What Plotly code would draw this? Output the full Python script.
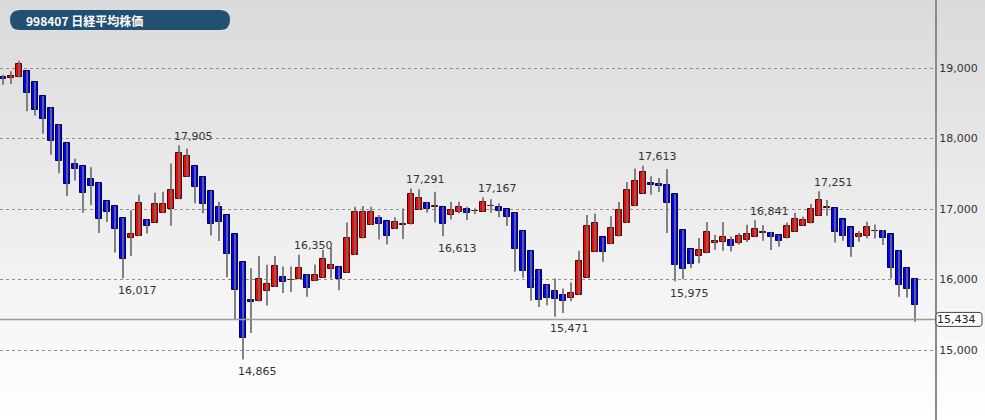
import plotly.graph_objects as go

title_text = "998407 日経平均株価"

opens = [18868, 18858, 18868, 18962, 18807, 18604, 18439, 18198, 17939, 17642,
         17608, 17425, 17373, 17118, 17038, 16873, 16594, 16618, 16849, 16807,
         16939, 17000, 17137, 17458, 17608, 17458, 17259, 17024, 16915, 16642,
         16245, 15712, 15689, 15844, 15892, 16042, 15995, 16005, 16071, 15976,
         16024, 16156, 16180, 16095, 16346, 16583, 16773, 16867, 16829, 16716,
         16782, 16782, 16986, 17081, 17033, 17033, 16915, 16953, 16995, 16972,
         16962, 17043, 17033, 17000, 16948, 16687, 16408, 16142, 15929, 15834,
         15777, 15739, 15777, 16024, 16393, 16597, 16502, 16611, 16801, 17038,
         17218, 17370, 17355, 17336, 17213, 16706, 16431, 16327, 16374, 16517,
         16531, 16564, 16517, 16564, 16600, 16668, 16654, 16630, 16583, 16678,
         16763, 16796, 16905, 17019, 17019, 16853, 16739, 16597, 16621, 16687,
         16687, 16640, 16408, 16166, 16014]
highs = [18906, 18953, 19104, 18962, 18807, 18604, 18439, 18198, 17939, 17712,
         17608, 17594, 17373, 17118, 17038, 16873, 16981, 17203, 16849, 17231,
         17245, 17646, 17905, 17858, 17608, 17458, 17259, 17104, 16915, 16642,
         16245, 16160, 16335, 16208, 16335, 16184, 16184, 16350, 16071, 16213,
         16417, 16450, 16180, 16810, 17033, 17043, 17033, 16915, 16829, 16882,
         17009, 17291, 17280, 17104, 17246, 17033, 17104, 17104, 17033, 17009,
         17167, 17137, 17081, 17000, 16948, 16687, 16408, 16142, 15929, 16014,
         15872, 15957, 16408, 16915, 16938, 16597, 16896, 17100, 17384, 17573,
         17613, 17464, 17441, 17569, 17213, 16706, 16431, 16588, 16815, 16635,
         16815, 16611, 16659, 16777, 16841, 16773, 16678, 16630, 16810, 16948,
         16891, 17071, 17251, 17128, 17019, 16853, 16739, 16687, 16820, 16782,
         16701, 16640, 16408, 16166, 16014]
lows = [18764, 18774, 18868, 18387, 18325, 18066, 17769, 17509, 17184, 17406,
        16948, 17052, 16660, 16816, 16382, 16017, 16335, 16618, 16651, 16807,
        16939, 16764, 17137, 17458, 17080, 16939, 16623, 16547, 16033, 15429,
        14865, 15241, 15689, 15632, 15892, 15807, 15821, 16005, 15754, 15976,
        16024, 16014, 15848, 16095, 16346, 16583, 16773, 16569, 16498, 16716,
        16573, 16782, 16986, 16948, 16810, 16613, 16853, 16938, 16844, 16929,
        16962, 16948, 16882, 16758, 16109, 16024, 15697, 15611, 15635, 15471,
        15526, 15692, 15777, 16024, 16393, 16251, 16502, 16611, 16801, 17038,
        17218, 17204, 17242, 16659, 15975, 16005, 16161, 16232, 16374, 16422,
        16408, 16398, 16493, 16531, 16600, 16550, 16417, 16464, 16583, 16678,
        16763, 16796, 16905, 16905, 16526, 16550, 16322, 16536, 16583, 16583,
        16488, 16014, 15754, 15744, 15400]
closes = [18849, 18892, 19057, 18642, 18406, 18278, 17958, 17684, 17349, 17571,
          17231, 17325, 16863, 16958, 16712, 16297, 16651, 17090, 16755, 17066,
          17071, 17269, 17788, 17755, 17316, 17066, 16783, 16821, 16363, 15854,
          15170, 15675, 16009, 15934, 16194, 15962, 15995, 16160, 15882, 16062,
          16284, 16204, 16014, 16583, 16953, 16962, 16962, 16787, 16616, 16810,
          16782, 17209, 17161, 17000, 17033, 16782, 16986, 17033, 16938, 16972,
          17095, 17043, 16976, 16882, 16427, 16118, 15882, 15716, 15744, 15720,
          15697, 15815, 16261, 16758, 16806, 16393, 16730, 16981, 17275, 17393,
          17521, 17341, 17332, 17085, 16209, 16147, 16223, 16422, 16668, 16540,
          16602, 16469, 16611, 16645, 16718, 16668, 16607, 16545, 16763, 16853,
          16844, 17000, 17128, 17019, 16678, 16621, 16464, 16640, 16739, 16687,
          16592, 16166, 15919, 15863, 15645]

days = list(range(len(opens)))

high_marks = [22, 37, 51, 60, 80, 94, 102]
low_marks = [15, 30, 55, 69, 84]

last_price = 15434
ytick_vals = [15000, 16000, 17000, 18000, 19000]
ytick_text = ["15,000", "16,000", "17,000", "18,000", "19,000"]

UP = "#ff0000"
DOWN = "#0000ff"
UP_EDGE = "#4a0000"
DOWN_EDGE = "#00004a"
WICK = "#6e6e6e"
FONT = "DejaVu Sans"

fig = go.Figure()

# wicks
wx, wy = [], []
for d, h, l in zip(days, highs, lows):
    wx += [d, d, None]
    wy += [l, h, None]
fig.add_trace(go.Scatter(x=wx, y=wy, mode="lines",
                         line=dict(color=WICK, width=1.7),
                         hoverinfo="skip", showlegend=False))

# bodies
bases, heights, fills, edges = [], [], [], []
for o, c in zip(opens, closes):
    lo, hi = min(o, c), max(o, c)
    if hi - lo < 8:
        mid = (hi + lo) / 2
        lo, hi = mid - 4, mid + 4
    bases.append(lo)
    heights.append(hi - lo)
    up = c >= o
    fills.append(UP if up else DOWN)
    edges.append(UP_EDGE if up else DOWN_EDGE)
fig.add_trace(go.Bar(x=days, y=heights, base=bases, width=0.86,
                     marker=dict(color=fills, line=dict(color=edges, width=1)),
                     hoverinfo="skip", showlegend=False))

# background gradient
shapes = []
n = 60
for k in range(n):
    t = k / (n - 1)
    g = int(round(218 + (255 - 218) * t))
    shapes.append(dict(type="rect", xref="paper", yref="paper",
                       x0=-0.01, x1=1.06, y0=1 - (k + 1) / n, y1=1 - k / n + 0.001,
                       fillcolor=f"rgb({g},{g},{g})", line=dict(width=0),
                       layer="below"))

# last price line
shapes.append(dict(type="line", xref="paper", yref="y", x0=0, x1=1,
                   y0=last_price, y1=last_price,
                   line=dict(color="#9a9a9a", width=1.5), layer="above"))
# last price box (rounded)
shapes.append(dict(type="path", xref="paper", yref="y",
                   xsizemode="pixel", ysizemode="pixel",
                   xanchor=1, yanchor=last_price,
                   path="M 4,7 L 44,7 Q 47,7 47,4 L 47,-4 Q 47,-7 44,-7 L 4,-7 Q 1,-7 1,-4 L 1,4 Q 1,7 4,7 Z",
                   fillcolor="white", line=dict(color="#444", width=1), layer="above"))
# title pill
shapes.append(dict(type="path", xref="paper", yref="paper",
                   xsizemode="pixel", ysizemode="pixel",
                   xanchor=0, yanchor=1,
                   path="M 20,-10 L 220,-10 Q 230,-10 230,-20 Q 230,-30 220,-30 L 20,-30 Q 10,-30 10,-20 Q 10,-10 20,-10 Z",
                   fillcolor="#215073", line=dict(width=0), layer="above"))

annotations = []
annotations.append(dict(xref="paper", yref="paper", x=0, y=1, xanchor="left",
                        yanchor="middle", xshift=24, yshift=-20, showarrow=False,
                        text=f"<b>{title_text}</b>",
                        font=dict(family="Noto Sans CJK JP", size=12, color="white")))
annotations.append(dict(xref="paper", yref="y", x=1, y=last_price, xanchor="left",
                        yanchor="middle", xshift=0, showarrow=False,
                        text=f"{last_price:,}",
                        font=dict(family=FONT, size=11, color="#222")))
for i in high_marks:
    annotations.append(dict(x=i, y=highs[i], xanchor="left", yanchor="middle",
                            xshift=-7, yshift=9, showarrow=False,
                            text=f"{highs[i]:,}",
                            font=dict(family=FONT, size=11, color="#333")))
for i in low_marks:
    annotations.append(dict(x=i, y=lows[i], xanchor="left", yanchor="middle",
                            xshift=-7, yshift=-12, showarrow=False,
                            text=f"{lows[i]:,}",
                            font=dict(family=FONT, size=11, color="#333")))

fig.update_layout(
    width=985, height=420,
    margin=dict(l=0, r=50, t=0, b=0),
    paper_bgcolor="white",
    plot_bgcolor="rgba(0,0,0,0)",
    shapes=shapes,
    annotations=annotations,
    bargap=0,
    xaxis=dict(range=[-0.375, 116.5], visible=False, fixedrange=True),
    yaxis=dict(range=[14007, 19965], side="right",
               tickvals=ytick_vals, ticktext=ytick_text,
               tickfont=dict(family=FONT, size=11, color="#333"),
               showgrid=True, gridcolor="#8f8f8f", griddash="dot", gridwidth=1,
               showline=True, linecolor="#8a8a8a", linewidth=2,
               ticks="", zeroline=False, fixedrange=True),
    showlegend=False,
)

fig.write_html("out.html", config={"displayModeBar": False},
               post_script="document.body.style.margin='0';document.body.style.overflow='hidden';")
